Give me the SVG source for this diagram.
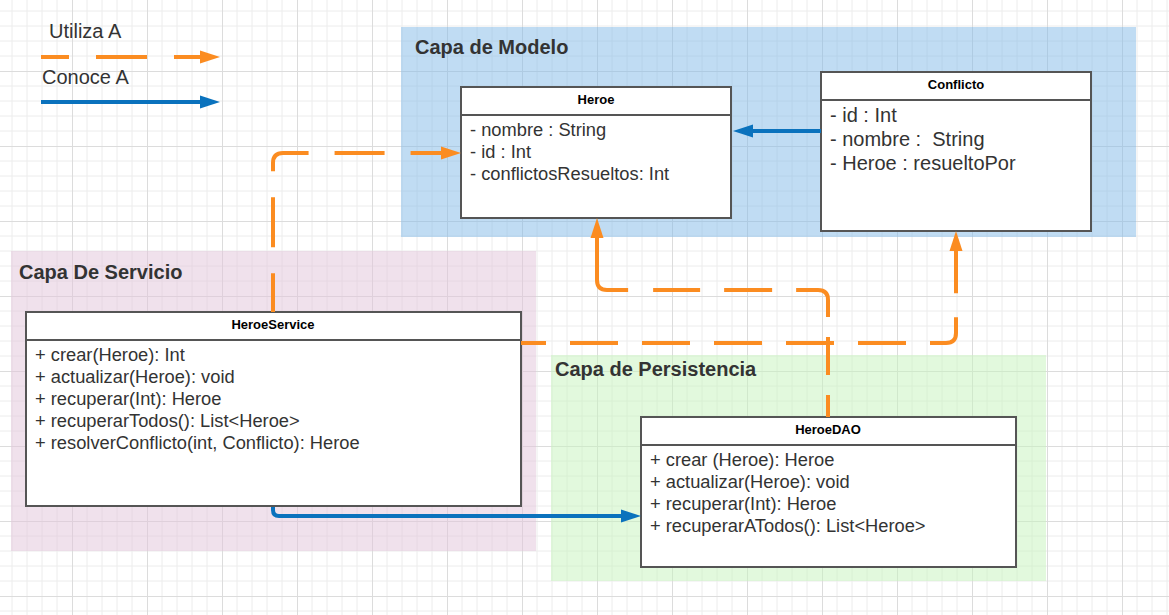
<svg xmlns="http://www.w3.org/2000/svg" width="1169" height="615" viewBox="0 0 1169 615">
<style>
.t{font-family:"Liberation Sans",Arial,sans-serif;fill:#333;}
.layer{font-size:20px;font-weight:bold;}
.legend{font-size:20px;}
.cls{font-family:"Liberation Sans",Arial,sans-serif;font-size:13px;font-weight:bold;fill:#000;}
.attr{font-size:18.3px;white-space:pre;}
.attr20{font-size:20px;white-space:pre;}
.box{fill:#fff;stroke:#555;stroke-width:2;}
.sep{stroke:#555;stroke-width:2;}
.use{fill:none;stroke:#fb8c21;stroke-width:4;stroke-dasharray:48 24;}
.know{fill:none;stroke:#0a72bd;stroke-width:4;}
</style>
<defs>
<pattern id="grid" patternUnits="userSpaceOnUse" x="72" y="71" width="75" height="75">
<path d="M15,0V75M30,0V75M45,0V75M60,0V75M0,15H75M0,30H75M0,45H75M0,60H75" stroke="#ececec" stroke-width="1" fill="none"/>
<path d="M0.5,0V75M0,0.5H75" stroke="#dcdcdc" stroke-width="1" fill="none"/>
</pattern>
<marker id="ao" markerUnits="userSpaceOnUse" markerWidth="22" markerHeight="16" viewBox="0 -8 22 16" refX="0" refY="0" orient="auto">
<path d="M0,-6.5L20,0L0,6.5z" fill="#fb8c21"/>
</marker>
<marker id="ab" markerUnits="userSpaceOnUse" markerWidth="22" markerHeight="16" viewBox="0 -8 22 16" refX="0" refY="0" orient="auto">
<path d="M0,-6.5L20,0L0,6.5z" fill="#0a72bd"/>
</marker>
</defs>
<rect width="1169" height="615" fill="#fff"/>
<rect width="1169" height="615" fill="url(#grid)"/>

<g id="legend">
<text class="t legend" x="49" y="38">Utiliza A</text>
<path class="use" d="M41,57H200" style="stroke-dasharray:28 27 51 27 26 0" marker-end="url(#ao)"/>
<text class="t legend" x="42" y="84">Conoce A</text>
<path class="know" d="M41,102H200" marker-end="url(#ab)"/>
</g>

<g id="capa-modelo">
<rect x="401" y="27" width="735" height="210" fill="#81b9e7" fill-opacity="0.5"/>
<text class="t layer" x="415" y="54">Capa de Modelo</text>
</g>
<g id="capa-servicio">
<rect x="11" y="251" width="525" height="300" fill="#e2c4da" fill-opacity="0.5"/>
<text class="t layer" x="19" y="279">Capa De Servicio</text>
</g>
<g id="capa-persistencia">
<rect x="551" y="355" width="495" height="226" fill="#c5f3bb" fill-opacity="0.5"/>
<text class="t layer" x="555" y="376">Capa de Persistencia</text>
</g>

<g id="heroe">
<rect class="box" x="461" y="87" width="270" height="131"/>
<line class="sep" x1="461" y1="115" x2="731" y2="115"/>
<text class="cls" x="596" y="104" text-anchor="middle">Heroe</text>
<text class="t attr" x="470" y="136">- nombre : String</text>
<text class="t attr" x="470" y="158">- id : Int</text>
<text class="t attr" x="470" y="180">- conflictosResueltos: Int</text>
</g>

<g id="conflicto">
<rect class="box" x="821" y="72" width="270" height="159"/>
<line class="sep" x1="821" y1="100" x2="1091" y2="100"/>
<text class="cls" x="956" y="89" text-anchor="middle">Conflicto</text>
<text class="t attr20" x="830" y="122">- id : Int</text>
<text class="t attr20" x="830" y="146">- nombre :  String</text>
<text class="t attr20" x="830" y="170">- Heroe : resueltoPor</text>
</g>

<g id="heroeservice">
<rect class="box" x="26" y="312" width="495" height="194"/>
<line class="sep" x1="26" y1="340" x2="521" y2="340"/>
<text class="cls" x="273" y="329" text-anchor="middle">HeroeService</text>
<text class="t attr" x="35" y="361">+ crear(Heroe): Int</text>
<text class="t attr" x="35" y="383">+ actualizar(Heroe): void</text>
<text class="t attr" x="35" y="405">+ recuperar(Int): Heroe</text>
<text class="t attr" x="35" y="427">+ recuperarTodos(): List&lt;Heroe&gt;</text>
<text class="t attr" x="35" y="449">+ resolverConflicto(int, Conflicto): Heroe</text>
</g>

<g id="heroedao">
<rect class="box" x="641" y="417" width="375" height="150"/>
<line class="sep" x1="641" y1="445" x2="1016" y2="445"/>
<text class="cls" x="828" y="434" text-anchor="middle">HeroeDAO</text>
<text class="t attr" x="650" y="466">+ crear (Heroe): Heroe</text>
<text class="t attr" x="650" y="488">+ actualizar(Heroe): void</text>
<text class="t attr" x="650" y="510">+ recuperar(Int): Heroe</text>
<text class="t attr" x="650" y="532">+ recuperarATodos(): List&lt;Heroe&gt;</text>
</g>

<g id="connectors">
<path class="use" d="M273,312V163Q273,153 283,153H441" style="stroke-dasharray:50 26;stroke-dashoffset:11.3" marker-end="url(#ao)"/>
<path class="use" d="M828,417V300Q828,290 818,290H607Q597,290 597,280V238" style="stroke-dasharray:22 20 38 20 55 24 48 24 47 25 120" marker-end="url(#ao)"/>
<path class="use" d="M521,343H946Q956,343 956,333V251" style="stroke-dashoffset:23" marker-end="url(#ao)"/>
<path class="know" d="M821,131H753" marker-end="url(#ab)"/>
<path class="know" d="M273,507V510Q273,516 279,516H621" marker-end="url(#ab)"/>
</g>
</svg>
